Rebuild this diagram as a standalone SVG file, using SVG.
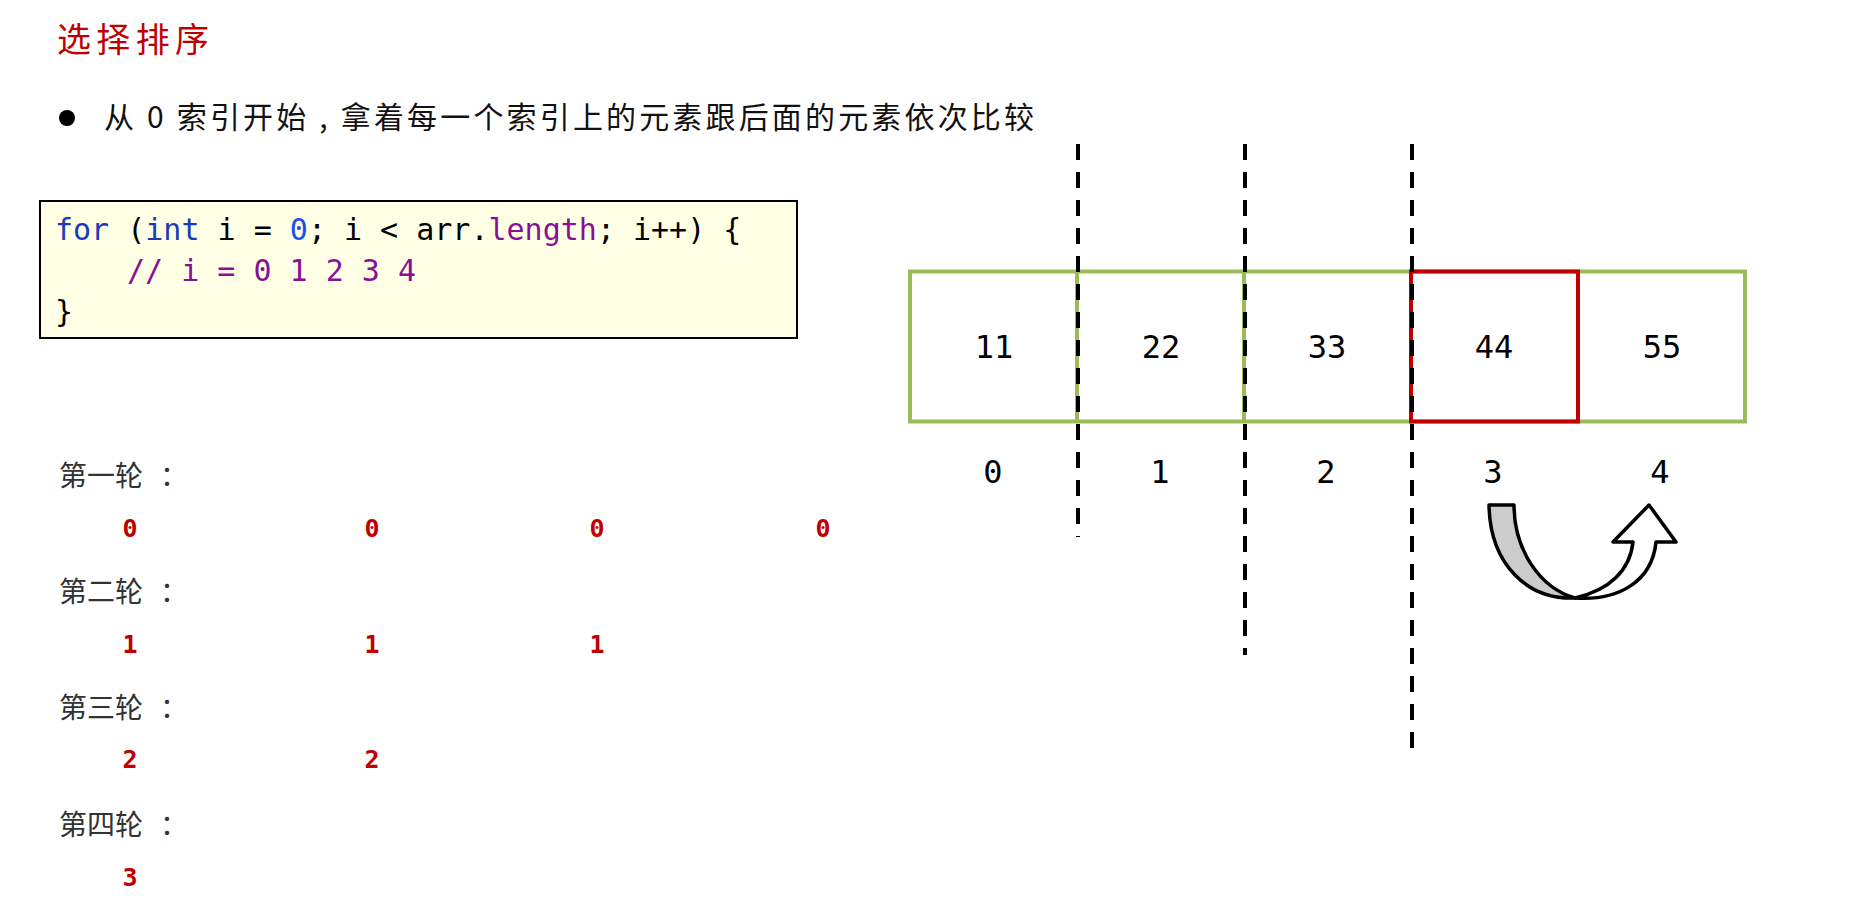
<svg xmlns="http://www.w3.org/2000/svg" width="1851" height="904" viewBox="0 0 1851 904">
<style>
.cjk{font-family:"Noto Sans CJK SC","Noto Sans",sans-serif;}
.code{font-family:"DejaVu Sans Mono","Liberation Mono",monospace;font-size:30px;}
.kw{fill:#1a3bb8;}
.num{fill:#1750eb;}
.pur{fill:#871094;}
.cell{font-family:"DejaVu Sans Mono","Liberation Mono",monospace;font-size:32px;fill:#000;text-anchor:middle;}
.red{font-family:"DejaVu Sans Mono","Liberation Mono",monospace;font-size:25px;font-weight:bold;fill:#c00000;text-anchor:middle;}
.round{font-size:28px;fill:#333;}
.dash{stroke:#000;stroke-width:4;stroke-dasharray:16 12;fill:none;}
</style>
<rect width="1851" height="904" fill="#fff"/>
<g id="title">
<text class="cjk" x="57" y="52" font-size="34" fill="#c00000" textLength="152" lengthAdjust="spacing">选择排序</text>
</g>
<g id="bullet">
<circle cx="67" cy="118" r="8" fill="#000"/>
<text class="cjk" x="104" y="128" font-size="30" fill="#111" textLength="930" lengthAdjust="spacing">从 0 索引开始 , 拿着每一个索引上的元素跟后面的元素依次比较</text>
</g>
<g id="code">
<rect x="40" y="201" width="757" height="137" fill="#ffffe5" stroke="#000" stroke-width="2"/>
<text class="code" x="55" y="240" xml:space="preserve"><tspan class="kw">for</tspan> (<tspan class="kw">int</tspan> i = <tspan class="num">0</tspan>; i &lt; arr.<tspan class="pur">length</tspan>; i++) {</text>
<text class="code pur" x="127" y="281" xml:space="preserve">// i = 0 1 2 3 4</text>
<text class="code" x="55" y="322">}</text>
</g>
<g id="array">
<rect x="910" y="271.5" width="835" height="150" fill="#fff" stroke="#9bbb59" stroke-width="4"/>
<line x1="1077" y1="271.5" x2="1077" y2="421.5" stroke="#9bbb59" stroke-width="4"/>
<line x1="1244" y1="271.5" x2="1244" y2="421.5" stroke="#9bbb59" stroke-width="4"/>
<line x1="1578" y1="271.5" x2="1578" y2="421.5" stroke="#9bbb59" stroke-width="4"/>
<rect x="1411" y="271.5" width="167" height="150" fill="none" stroke="#c00000" stroke-width="4"/>
<text class="cell" x="994" y="358">11</text>
<text class="cell" x="1161" y="358">22</text>
<text class="cell" x="1327" y="358">33</text>
<text class="cell" x="1494" y="358">44</text>
<text class="cell" x="1662" y="358">55</text>
<text class="cell" x="993" y="483">0</text>
<text class="cell" x="1160" y="483">1</text>
<text class="cell" x="1326" y="483">2</text>
<text class="cell" x="1493" y="483">3</text>
<text class="cell" x="1660" y="483">4</text>
</g>
<g id="connectors">
<line class="dash" x1="1078" y1="144" x2="1078" y2="537"/>
<line class="dash" x1="1245" y1="144" x2="1245" y2="655"/>
<line class="dash" x1="1412" y1="144" x2="1412" y2="748"/>
</g>
<g id="swap-arrow" stroke="#000" stroke-width="3.5" stroke-linejoin="round">
<path d="M1489,505 L1514,505 C1514,550 1540,588 1575,598 C1528,600 1490,565 1489,505 Z" fill="#cccccc"/>
<path d="M1575,598 C1610,590 1630,570 1633,542 L1613,542 L1649,505 L1676,542 L1656,542 C1652,582 1618,601 1575,598 Z" fill="#fff"/>
</g>
<g id="rounds">
<text class="cjk round" x="59" y="486">第一轮</text><text class="cjk round" x="160" y="486">：</text>
<text class="cjk round" x="59" y="602">第二轮</text><text class="cjk round" x="160" y="602">：</text>
<text class="cjk round" x="59" y="718">第三轮</text><text class="cjk round" x="160" y="718">：</text>
<text class="cjk round" x="59" y="835">第四轮</text><text class="cjk round" x="160" y="835">：</text>
<text class="red" x="130" y="537">0</text>
<text class="red" x="372" y="537">0</text>
<text class="red" x="597" y="537">0</text>
<text class="red" x="823" y="537">0</text>
<text class="red" x="130" y="653">1</text>
<text class="red" x="372" y="653">1</text>
<text class="red" x="597" y="653">1</text>
<text class="red" x="130" y="768">2</text>
<text class="red" x="372" y="768">2</text>
<text class="red" x="130" y="886">3</text>
</g>
</svg>
